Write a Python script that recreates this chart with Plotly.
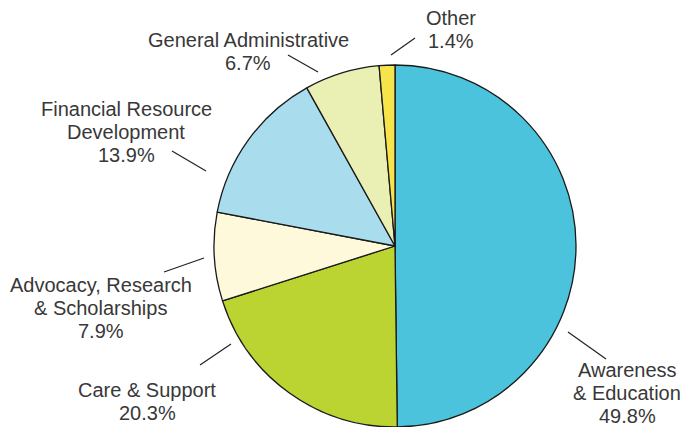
import plotly.graph_objects as go

labels = ["Awareness & Education", "Care & Support", "Advocacy, Research & Scholarships",
          "Financial Resource Development", "General Administrative", "Other"]
values = [49.8, 20.3, 7.9, 13.9, 6.7, 1.4]
label_lines = [["Awareness", "& Education"], ["Care & Support"], ["Advocacy, Research", "& Scholarships"],
               ["Financial Resource", "Development"], ["General Administrative"], ["Other"]]
colors = ["#4CC3DC", "#BBD432", "#FEF9DB", "#A9DDEE", "#EAEFB4", "#F7E34B"]

W, H = 689, 427

def px(x):
    return x / W

def py(y):
    return 1 - y / H

# pie geometry (pixels)
cx, cy, r = 395, 246, 181

fig = go.Figure(go.Pie(
    labels=labels, values=values, sort=False, direction="clockwise", rotation=0,
    marker=dict(colors=colors, line=dict(color="#1a1a1a", width=1.3)),
    textinfo="none", hoverinfo="label+percent",
    domain=dict(x=[px(cx - r), px(cx + r)], y=[py(cy + r), py(cy - r)]),
))

# label placement (pixels): text center x, first line y, leader line x0,y0,x1,y1
placements = [
    (627, 370, 568, 332, 606, 359),
    (147, 390, 200, 365, 231, 344),
    (101, 285, 164, 272, 204, 258),
    (126, 109, 172, 151, 206, 171),
    (248, 40, 288, 55, 318, 72),
    (451, 18, 391, 55, 415, 38),
]
line_gap = 23

annotations = []
shapes = []
for lines, v, (tx, ty, x0, y0, x1, y1) in zip(label_lines, values, placements):
    all_lines = lines + [f"{v:.1f}%"]
    for i, ln in enumerate(all_lines):
        annotations.append(dict(
            text=ln, x=px(tx), y=py(ty + i * line_gap), xref="paper", yref="paper",
            xanchor="center", yanchor="middle", align="center", showarrow=False,
            font=dict(family="Liberation Sans, Arial, sans-serif", size=20, color="#383838"),
        ))
    shapes.append(dict(type="line", xref="paper", yref="paper",
                       x0=px(x0), y0=py(y0), x1=px(x1), y1=py(y1),
                       line=dict(color="#222222", width=1.2)))

fig.update_layout(
    width=W, height=H, margin=dict(l=0, r=0, t=0, b=0),
    paper_bgcolor="white", plot_bgcolor="white", showlegend=False,
    annotations=annotations, shapes=shapes,
)

fig.write_html("out.html", config={"displayModeBar": False},
               post_script="document.body.style.margin='0';document.body.style.overflow='hidden';")
